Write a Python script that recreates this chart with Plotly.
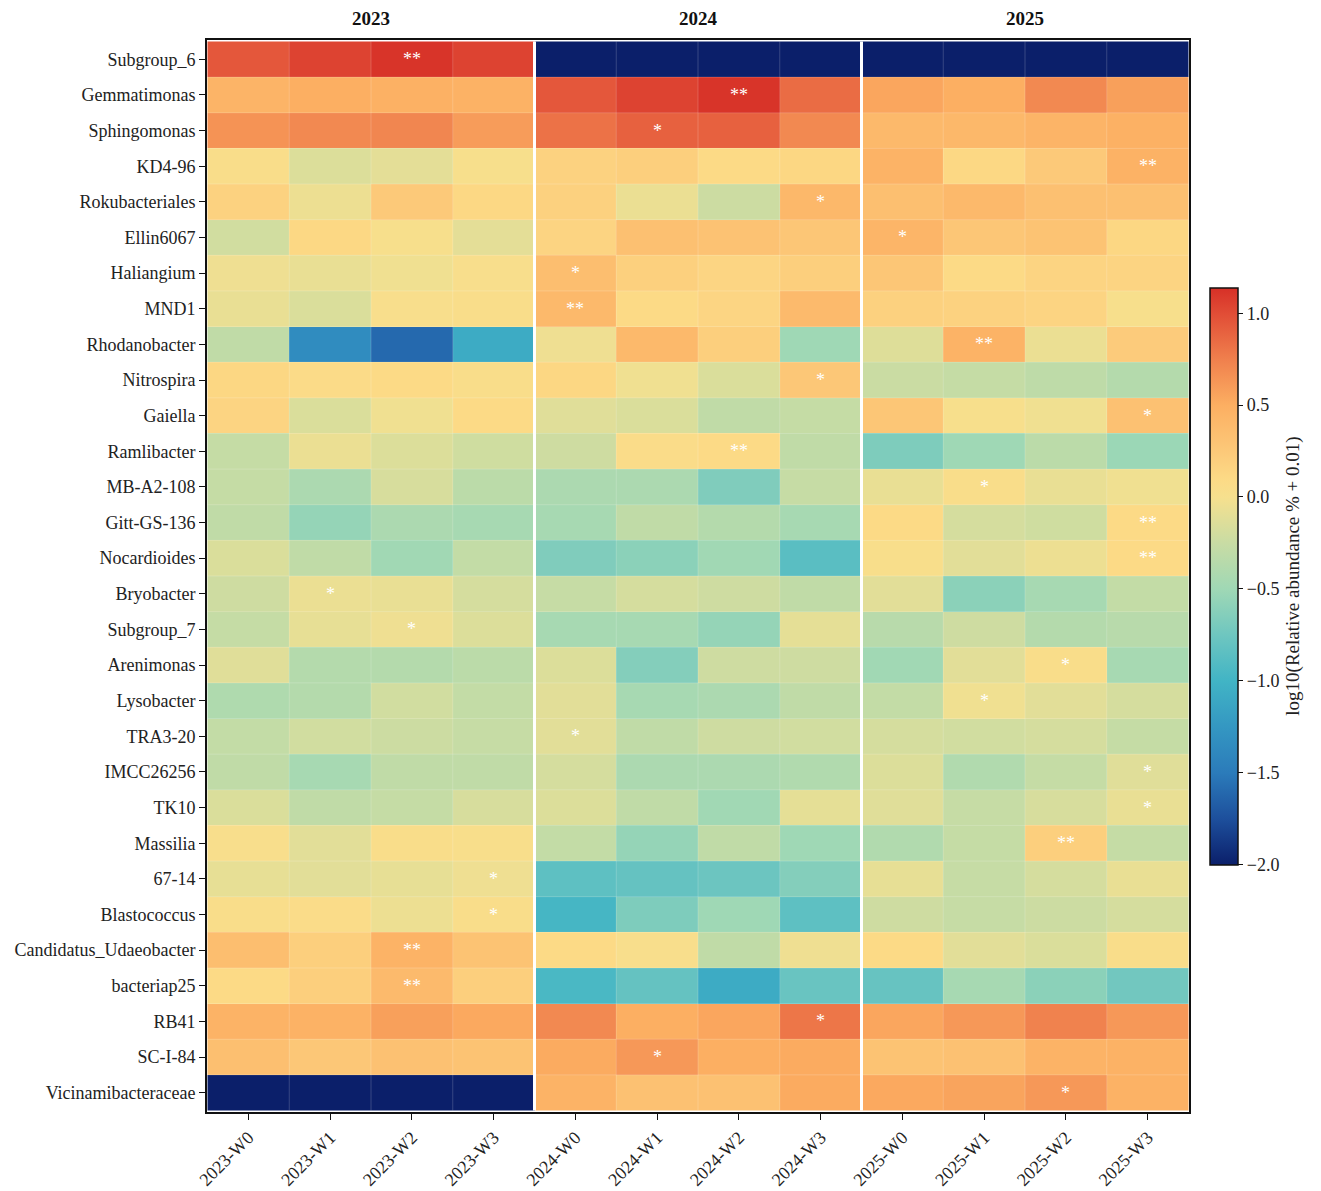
import numpy as np
import plotly.graph_objects as go

taxa = ["Subgroup_6", "Gemmatimonas", "Sphingomonas", "KD4-96", "Rokubacteriales",
        "Ellin6067", "Haliangium", "MND1", "Rhodanobacter", "Nitrospira", "Gaiella",
        "Ramlibacter", "MB-A2-108", "Gitt-GS-136", "Nocardioides", "Bryobacter",
        "Subgroup_7", "Arenimonas", "Lysobacter", "TRA3-20", "IMCC26256", "TK10",
        "Massilia", "67-14", "Blastococcus", "Candidatus_Udaeobacter", "bacteriap25",
        "RB41", "SC-I-84", "Vicinamibacteraceae"]

years = ["2023", "2024", "2025"]
samples = [f"{y}-W{w}" for y in years for w in range(4)]

vals_2023 = [
    [0.95, 1.05, 1.12, 1.05],
    [0.45, 0.50, 0.48, 0.47],
    [0.65, 0.70, 0.72, 0.60],
    [0.05, -0.14, -0.10, 0.02],
    [0.17, -0.05, 0.25, 0.12],
    [-0.20, 0.12, 0.02, -0.10],
    [-0.04, -0.07, -0.03, 0.03],
    [-0.07, -0.15, 0.03, 0.05],
    [-0.30, -1.35, -1.60, -1.08],
    [0.13, 0.08, 0.10, 0.05],
    [0.15, -0.15, -0.03, 0.10],
    [-0.27, -0.06, -0.14, -0.21],
    [-0.27, -0.42, -0.17, -0.33],
    [-0.30, -0.55, -0.42, -0.45],
    [-0.15, -0.30, -0.49, -0.28],
    [-0.22, -0.06, -0.07, -0.18],
    [-0.27, -0.08, -0.04, -0.14],
    [-0.12, -0.37, -0.37, -0.33],
    [-0.40, -0.37, -0.20, -0.28],
    [-0.28, -0.20, -0.23, -0.26],
    [-0.30, -0.45, -0.30, -0.30],
    [-0.15, -0.30, -0.27, -0.17],
    [0.03, -0.11, 0.05, 0.04],
    [-0.08, -0.11, -0.08, -0.04],
    [0.05, 0.06, -0.05, 0.05],
    [0.36, 0.20, 0.46, 0.31],
    [0.10, 0.20, 0.39, 0.20],
    [0.46, 0.47, 0.58, 0.53],
    [0.35, 0.27, 0.33, 0.31],
    [-2.00, -2.00, -2.00, -2.00],
]

vals_2024 = [
    [-2.00, -2.00, -2.00, -2.00],
    [0.95, 1.05, 1.12, 0.85],
    [0.82, 0.90, 0.90, 0.70],
    [0.17, 0.20, 0.10, 0.13],
    [0.18, -0.06, -0.23, 0.41],
    [0.15, 0.34, 0.32, 0.28],
    [0.36, 0.19, 0.14, 0.20],
    [0.40, 0.10, 0.14, 0.39],
    [-0.04, 0.40, 0.20, -0.50],
    [0.13, -0.03, -0.15, 0.27],
    [-0.12, -0.15, -0.30, -0.27],
    [-0.22, 0.06, 0.10, -0.30],
    [-0.42, -0.42, -0.66, -0.26],
    [-0.45, -0.30, -0.37, -0.45],
    [-0.66, -0.60, -0.49, -0.86],
    [-0.26, -0.18, -0.22, -0.30],
    [-0.45, -0.45, -0.55, -0.09],
    [-0.14, -0.64, -0.22, -0.22],
    [-0.11, -0.45, -0.42, -0.30],
    [-0.11, -0.30, -0.22, -0.20],
    [-0.18, -0.42, -0.42, -0.39],
    [-0.14, -0.30, -0.49, -0.09],
    [-0.28, -0.55, -0.30, -0.50],
    [-0.84, -0.80, -0.76, -0.64],
    [-0.97, -0.67, -0.50, -0.84],
    [0.10, 0.03, -0.30, -0.04],
    [-0.95, -0.80, -1.08, -0.78],
    [0.70, 0.50, 0.55, 0.80],
    [0.52, 0.62, 0.50, 0.52],
    [0.46, 0.33, 0.33, 0.52],
]

vals_2025 = [
    [-2.00, -2.00, -2.00, -2.00],
    [0.55, 0.50, 0.70, 0.58],
    [0.40, 0.41, 0.45, 0.48],
    [0.46, 0.12, 0.25, 0.47],
    [0.35, 0.40, 0.34, 0.34],
    [0.44, 0.28, 0.31, 0.13],
    [0.28, 0.10, 0.15, 0.15],
    [0.18, 0.17, 0.15, 0.02],
    [-0.13, 0.46, -0.06, 0.23],
    [-0.24, -0.27, -0.31, -0.37],
    [0.28, 0.02, -0.03, 0.33],
    [-0.67, -0.50, -0.33, -0.52],
    [-0.07, 0.05, -0.07, -0.03],
    [0.10, -0.18, -0.21, 0.10],
    [0.04, -0.11, -0.05, 0.10],
    [-0.11, -0.60, -0.45, -0.28],
    [-0.35, -0.22, -0.37, -0.35],
    [-0.49, -0.11, 0.05, -0.45],
    [-0.28, -0.03, -0.11, -0.18],
    [-0.18, -0.20, -0.18, -0.27],
    [-0.14, -0.39, -0.27, -0.12],
    [-0.12, -0.26, -0.17, -0.07],
    [-0.39, -0.27, 0.20, -0.27],
    [-0.08, -0.26, -0.18, -0.07],
    [-0.22, -0.26, -0.23, -0.18],
    [0.10, -0.11, -0.15, 0.05],
    [-0.79, -0.45, -0.60, -0.73],
    [0.55, 0.62, 0.74, 0.62],
    [0.31, 0.33, 0.46, 0.47],
    [0.53, 0.56, 0.62, 0.47],
]

# significance marks: (taxon, sample, label)
sig_marks = [
    ("Subgroup_6", "2023-W2", "**"), ("Gemmatimonas", "2024-W2", "**"),
    ("Sphingomonas", "2024-W1", "*"), ("KD4-96", "2025-W3", "**"),
    ("Rokubacteriales", "2024-W3", "*"), ("Ellin6067", "2025-W0", "*"),
    ("Haliangium", "2024-W0", "*"), ("MND1", "2024-W0", "**"),
    ("Rhodanobacter", "2025-W1", "**"), ("Nitrospira", "2024-W3", "*"),
    ("Gaiella", "2025-W3", "*"), ("Ramlibacter", "2024-W2", "**"),
    ("MB-A2-108", "2025-W1", "*"), ("Gitt-GS-136", "2025-W3", "**"),
    ("Nocardioides", "2025-W3", "**"), ("Bryobacter", "2023-W1", "*"),
    ("Subgroup_7", "2023-W2", "*"), ("Arenimonas", "2025-W2", "*"),
    ("Lysobacter", "2025-W1", "*"), ("TRA3-20", "2024-W0", "*"),
    ("IMCC26256", "2025-W3", "*"), ("TK10", "2025-W3", "*"),
    ("Massilia", "2025-W2", "**"), ("67-14", "2023-W3", "*"),
    ("Blastococcus", "2023-W3", "*"), ("Candidatus_Udaeobacter", "2023-W2", "**"),
    ("bacteriap25", "2023-W2", "**"), ("RB41", "2024-W3", "*"),
    ("SC-I-84", "2024-W1", "*"), ("Vicinamibacteraceae", "2025-W2", "*"),
]

cbar_ticks = [1.0, 0.5, 0.0, -0.5, -1.0, -1.5, -2.0]
zmin, zmax = -2.0, 1.14

Z = np.hstack([np.array(vals_2023), np.array(vals_2024), np.array(vals_2025)])

def p(v):
    return (v - zmin) / (zmax - zmin)

colorscale = [
    [0.0, "#0b1f6a"],
    [p(-1.75), "#1d4f9c"],
    [p(-1.5), "#2b7bba"],
    [p(-1.25), "#3497c2"],
    [p(-1.0), "#41b4c5"],
    [p(-0.75), "#6ec6c0"],
    [p(-0.5), "#9fd8b5"],
    [p(-0.25), "#c8dca4"],
    [p(0.0), "#f6e08e"],
    [p(0.1), "#fcda86"],
    [p(0.25), "#fcc979"],
    [p(0.5), "#fcaf62"],
    [p(0.75), "#f0804d"],
    [p(1.0), "#e14d36"],
    [1.0, "#d73027"],
]

FONT = "Liberation Serif"

fig = go.Figure()
fig.add_trace(go.Heatmap(
    z=Z, x=samples, y=taxa, zmin=zmin, zmax=zmax, colorscale=colorscale,
    colorbar=dict(
        x=1.0214, xanchor="left", xpad=0, y=0.5, yanchor="middle", len=0.538, ypad=0,
        thickness=28, outlinecolor="#111", outlinewidth=1.5,
        tickvals=cbar_ticks, tickformat=".1f", ticks="outside", ticklen=5,
        tickcolor="#111", tickfont=dict(family=FONT, size=18, color="#222"),
        title=dict(text="log10(Relative abundance % + 0.01)", side="right",
                   font=dict(family=FONT, size=19, color="#222")),
    ),
    hoverongaps=False,
))

shapes = []
nx, ny = len(samples), len(taxa)
for i in range(nx - 1):
    shapes.append(dict(type="line", xref="x", yref="y", x0=i + 0.5, x1=i + 0.5,
                       y0=-0.5, y1=ny - 0.5, line=dict(color="rgba(255,255,255,0.18)", width=1)))
for j in range(ny - 1):
    shapes.append(dict(type="line", xref="x", yref="y", x0=-0.5, x1=nx - 0.5,
                       y0=j + 0.5, y1=j + 0.5, line=dict(color="rgba(255,255,255,0.18)", width=1)))
for b in [3.5, 7.5]:
    shapes.append(dict(type="line", xref="x", yref="y", x0=b, x1=b,
                       y0=-0.5, y1=ny - 0.5, line=dict(color="white", width=3)))

annotations = []
for t, s, lab in sig_marks:
    annotations.append(dict(x=s, y=t, xref="x", yref="y", text=lab, showarrow=False,
                            font=dict(family=FONT, size=18, color="white"), yshift=0))
for k, yr in enumerate(years):
    annotations.append(dict(x=4 * k + 1.5, y=1.0, xref="x", yref="paper", text=f"<b>{yr}</b>",
                            showarrow=False, yanchor="bottom", yshift=9,
                            font=dict(family=FONT, size=19, color="#111")))

fig.update_layout(
    width=1321, height=1191,
    margin=dict(l=207, r=132, t=40, b=79, autoexpand=False),
    paper_bgcolor="white", plot_bgcolor="white",
    font=dict(family=FONT, size=18, color="#222"),
    shapes=shapes, annotations=annotations,
    xaxis=dict(showline=True, mirror=True, linecolor="#111", linewidth=1.8,
               ticks="outside", ticklen=6, tickcolor="#111", tickangle=-45, automargin=False,
               tickfont=dict(family=FONT, size=18), showgrid=False, zeroline=False),
    yaxis=dict(showline=True, mirror=True, linecolor="#111", linewidth=1.8,
               ticks="outside", ticklen=6, tickcolor="#111", autorange="reversed", automargin=False,
               tickfont=dict(family=FONT, size=18), showgrid=False, zeroline=False),
)

fig.write_html("out.html")
